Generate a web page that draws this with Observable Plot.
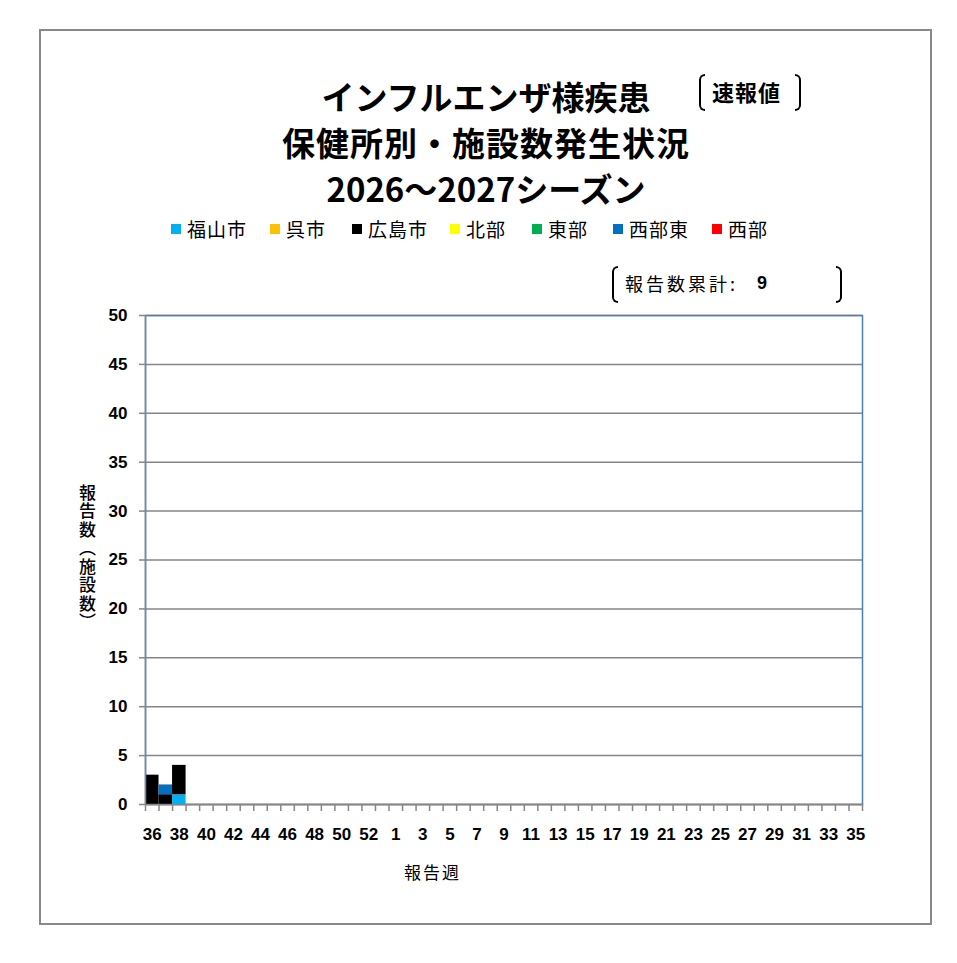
<!DOCTYPE html>
<html><head><meta charset="utf-8">
<script src="https://cdn.jsdelivr.net/npm/d3@7"></script>
<script src="https://cdn.jsdelivr.net/npm/@observablehq/plot@0.6"></script>
<style>
html,body{margin:0;padding:0;background:#fff;}
#wrap{position:relative;width:957px;height:963px;overflow:hidden;font-family:"Noto Sans CJK JP",sans-serif;color:#000;}
#wrap svg{position:absolute;left:0;top:0;}
.abs{position:absolute;white-space:nowrap;}
.brL{position:absolute;border:2px solid #000;border-right:none;border-radius:6px 0 0 6px;width:4px;}
.brR{position:absolute;border:2px solid #000;border-left:none;border-radius:0 6px 6px 0;width:4px;}
</style></head>
<body><div id="wrap"></div>
<script>
// ---- data ----
const weeks = ["36","37","38","39","40","41","42","43","44","45","46","47","48","49","50","51","52","53",
  "1","2","3","4","5","6","7","8","9","10","11","12","13","14","15","16","17","18","19","20",
  "21","22","23","24","25","26","27","28","29","30","31","32","33","34","35"];
const labelWeeks = ["36","38","40","42","44","46","48","50","52","1","3","5","7","9","11","13","15","17","19","21","23","25","27","29","31","33","35"];
const regions = ["福山市","呉市","広島市","北部","東部","西部東","西部"];
const regionColors = ["#00B0F0","#FFC000","#000000","#FFFF00","#00B050","#0070C0","#FF0000"];
const reportedWeeks = ["36","37","38"];
const fukuyama  = [0,0,1];
const kure      = [0,0,0];
const hiroshima = [3,1,3];
const hokubu    = [0,0,0];
const tobu      = [0,0,0];
const seibuto   = [0,1,0];
const seibu     = [0,0,0];
const yTicks = [0,5,10,15,20,25,30,35,40,45,50];
const titleLines = ["インフルエンザ様疾患","保健所別・施設数発生状況","2026～2027シーズン"];
const badge = "速報値";
const totalLabel = "報告数累計:";
const yLabel = "報告数（施設数）";
const xLabel = "報告週";

// ---- build rows ----
const seriesValues = [fukuyama,kure,hiroshima,hokubu,tobu,seibuto,seibu];
const rows = [];
reportedWeeks.forEach((w,wi)=>{
  regions.forEach((r,ri)=>{
    const v = seriesValues[ri][wi];
    if (v>0) rows.push({i: weeks.indexOf(w), week:w, region:r, value:v});
  });
});
const total = d3.sum(rows, d=>d.value);
const boundaries = weeks.map((w,i)=>i).concat([weeks.length]);
const labelPos = labelWeeks.map(w=>weeks.indexOf(w)+0.5);

const chart = Plot.plot({
  width:957, height:963,
  marginLeft:145, marginRight:95, marginTop:315, marginBottom:159,
  style:{fontFamily:"'Liberation Sans',Arial,sans-serif", fontSize:"17px", fontWeight:"bold", background:"transparent", color:"#000"},
  x:{type:"linear", domain:[0,weeks.length]},
  y:{domain:[0,50]},
  color:{domain:regions, range:regionColors},
  marks:[
    Plot.gridY(yTicks,{stroke:"#868686", strokeOpacity:1, strokeWidth:1.5}),
    Plot.frame({stroke:"#4A7EBB", strokeWidth:1.5}),
    Plot.rectY(rows,{x1:"i", x2:d=>d.i+1, y:"value", fill:"region"}),
    Plot.ruleX([0],{stroke:"#868686", strokeWidth:1.5}),
    Plot.ruleY([0],{stroke:"#868686", strokeWidth:1.5}),
    Plot.axisY({ticks:yTicks, tickSize:6, tickPadding:12, stroke:"#868686", strokeWidth:1.5, fill:"#000", label:null, fontWeight:"bold"}),
    Plot.axisX({ticks:boundaries, tickSize:7, tickFormat:()=>"", stroke:"#868686", strokeWidth:1.5, label:null}),
    Plot.axisX({ticks:labelPos, tickSize:0, tickPadding:23, tickFormat:v=>weeks[Math.floor(v)], fill:"#000", label:null, fontWeight:"bold"})
  ]
});
const wrap = document.getElementById("wrap");
wrap.appendChild(chart);

function add(html, css){
  const d=document.createElement("div"); d.className="abs"; d.textContent=html; Object.assign(d.style,css); wrap.appendChild(d); return d;
}
function bracket(cls,left,top,h){
  const d=document.createElement("div"); d.className=cls; Object.assign(d.style,{left:left+"px",top:top+"px",height:h+"px"}); wrap.appendChild(d);
}
// outer border
const ob=document.createElement("div");
Object.assign(ob.style,{position:"absolute",left:"39px",top:"29px",width:"893px",height:"896px",border:"2px solid #898989",boxSizing:"border-box"});
wrap.appendChild(ob);

// titles
const tops=[73,119,165];
const spacing=["0px","1px","0px"];
titleLines.forEach((t,k)=>{
  add(t,{left:"0px",width:"972px",textAlign:"center",top:tops[k]+"px",fontSize:"33px",fontWeight:"bold",lineHeight:"46px",letterSpacing:spacing[k]});
});
// badge
bracket("brL",699,74,33);
bracket("brR",795,74,33);
add(badge,{left:"712px",top:"73px",fontSize:"22px",fontWeight:"bold",lineHeight:"36px",letterSpacing:"1px"});

// legend
const legX=[171,270,352,450,532,613,712];
regions.forEach((r,k)=>{
  const d=document.createElement("div");
  Object.assign(d.style,{position:"absolute",left:legX[k]+"px",top:"224px",width:"10px",height:"10px",background:regionColors[k]});
  wrap.appendChild(d);
  add(r,{left:(legX[k]+16)+"px",top:"215px",fontSize:"19px",lineHeight:"28px",letterSpacing:"1px"});
});

// total box
bracket("brL",612,266,33);
bracket("brR",836,266,33);
add(totalLabel,{left:"625px",top:"269px",fontSize:"18px",lineHeight:"28px",letterSpacing:"3px"});
add(String(total),{left:"757px",top:"269px",fontSize:"18px",lineHeight:"28px",fontWeight:"bold",fontFamily:"'Liberation Sans',Arial,sans-serif"});

// y label (vertical writing)
add(yLabel,{left:"76px",top:"484px",fontSize:"17px",writingMode:"vertical-rl",textOrientation:"upright",letterSpacing:"1.5px",lineHeight:"22px",fontWeight:"500"});
// x label
add(xLabel,{left:"404px",top:"858px",fontSize:"17px",letterSpacing:"2px",lineHeight:"28px"});
</script></body></html>
